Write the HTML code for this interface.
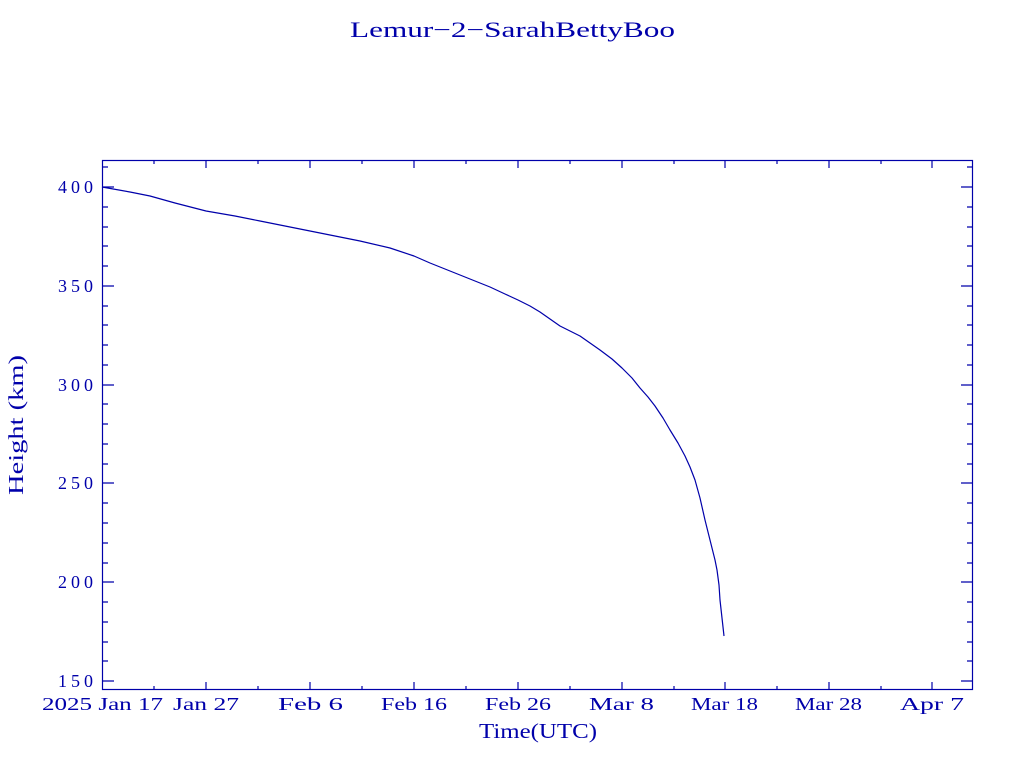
<!DOCTYPE html>
<html><head><style>body{margin:0;background:#fff}svg{display:block}</style></head><body>
<svg width="1024" height="768" xmlns="http://www.w3.org/2000/svg" font-family="Liberation Serif, serif" fill="#0000aa">
<text x="350" y="37" font-size="22" textLength="325" lengthAdjust="spacingAndGlyphs">Lemur−2−SarahBettyBoo</text>
<rect x="102.5" y="160.5" width="870" height="529" fill="none" stroke="#0000aa" stroke-width="1.2"/>
<g stroke="#0000aa" stroke-width="1.2">
<path d="M102 187h12M102 286h12M102 385h12M102 483h12M102 582h12M102 681h12M973 187h-12M973 286h-12M973 385h-12M973 483h-12M973 582h-12M973 681h-12"/>
<path d="M102 167h6M102 207h6M102 227h6M102 246h6M102 266h6M102 306h6M102 325h6M102 345h6M102 365h6M102 404h6M102 424h6M102 444h6M102 464h6M102 503h6M102 523h6M102 543h6M102 563h6M102 602h6M102 622h6M102 642h6M102 661h6
M973 167h-6M973 207h-6M973 227h-6M973 246h-6M973 266h-6M973 306h-6M973 325h-6M973 345h-6M973 365h-6M973 404h-6M973 424h-6M973 444h-6M973 464h-6M973 503h-6M973 523h-6M973 543h-6M973 563h-6M973 602h-6M973 622h-6M973 642h-6M973 661h-6"/>
<path d="M206 690v-8M310 690v-8M414 690v-8M518 690v-8M622 690v-8M725 690v-8M829 690v-8M932 690v-8M206 160v8M310 160v8M414 160v8M518 160v8M622 160v8M725 160v8M829 160v8M932 160v8"/>
<path d="M154 690v-4M258 690v-4M362 690v-4M466 690v-4M570 690v-4M674 690v-4M777 690v-4M881 690v-4M154 160v4M258 160v4M362 160v4M466 160v4M570 160v4M674 160v4M777 160v4M881 160v4"/>
</g>
<g font-size="18" lengthAdjust="spacingAndGlyphs">
<text x="58" y="193" textLength="35">400</text><text x="58" y="292" textLength="35">350</text><text x="58" y="391" textLength="35">300</text><text x="58" y="489" textLength="35">250</text><text x="58" y="588" textLength="35">200</text><text x="58" y="687" textLength="35">150</text>
</g>
<g font-size="18" xml:space="preserve">
<text x="42" y="710" textLength="121" lengthAdjust="spacingAndGlyphs">2025 Jan 17</text>
<text x="173" y="710" textLength="66" lengthAdjust="spacingAndGlyphs">Jan 27</text>
<text x="278" y="710" textLength="65" lengthAdjust="spacingAndGlyphs">Feb  6</text>
<text x="381" y="710" textLength="66" lengthAdjust="spacingAndGlyphs">Feb 16</text>
<text x="485" y="710" textLength="66" lengthAdjust="spacingAndGlyphs">Feb 26</text>
<text x="589" y="710" textLength="65" lengthAdjust="spacingAndGlyphs">Mar  8</text>
<text x="691" y="710" textLength="67" lengthAdjust="spacingAndGlyphs">Mar 18</text>
<text x="795" y="710" textLength="67" lengthAdjust="spacingAndGlyphs">Mar 28</text>
<text x="900" y="710" textLength="64" lengthAdjust="spacingAndGlyphs">Apr  7</text>
</g>
<text x="479" y="738" font-size="21" textLength="118" lengthAdjust="spacingAndGlyphs">Time(UTC)</text>
<text transform="translate(23,495) rotate(-90)" font-size="21" textLength="140" lengthAdjust="spacingAndGlyphs">Height (km)</text>
<polyline fill="none" stroke="#0000aa" stroke-width="1.2" stroke-linejoin="round" points="102,187 130,192 150,196 175,203 206,211 235,216 260,221 285,226 310,231 335,236 360,241 390,248 414,256 430,263 450,271 470,279 490,287 505,294 518,300 530,306 540,312 550,319 560,326 570,331 580,336 590,343 600,350 612,359 622,368 632,378 640,388 648,397 655,406 663,418 670,430 678,443 685,456 690,467 695,480 700,498 705,520 709,536 712,548 715,560 717,570 719,585 720,600 722,618 724,636"/>
</svg>
</body></html>
